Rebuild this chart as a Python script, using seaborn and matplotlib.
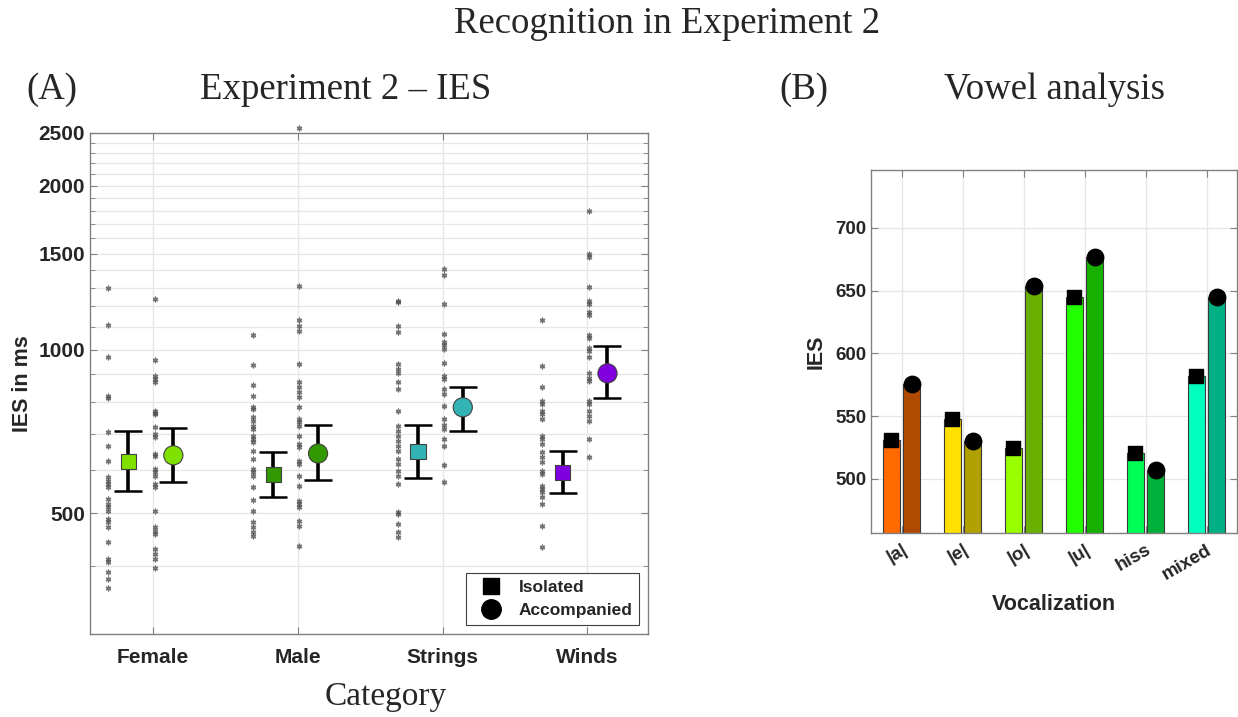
import numpy as np
import pandas as pd
import matplotlib
matplotlib.use("Agg")
import matplotlib.pyplot as plt
import seaborn as sns
from matplotlib.lines import Line2D
from matplotlib.ticker import FixedLocator, NullFormatter, FixedFormatter

sns.set_style("ticks")
plt.rcParams["font.family"] = ["Liberation Sans", "DejaVu Sans"]

# ---------------- data: panel A ----------------
categories = ["Female", "Male", "Strings", "Winds"]
conditions = ["Isolated", "Accompanied"]

female_iso = [1295, 1111, 967, 820, 813, 704, 664, 623, 583, 573, 566, 559, 531, 520,
              514, 505, 488, 482, 472, 443, 412, 407, 390, 379, 365]
female_acc = [1240, 955, 893, 881, 870, 770, 766, 760, 719, 699, 690, 642, 636, 603,
              595, 585, 565, 558, 505, 472, 464, 458, 430, 421, 412, 397]
male_iso = [1065, 935, 862, 820, 783, 776, 750, 738, 723, 713, 693, 684, 675, 650,
            628, 603, 595, 585, 558, 528, 505, 482, 472, 461, 454]
male_acc = [2553, 1310, 1135, 1106, 1083, 939, 870, 855, 834, 817, 783, 744, 735, 723,
            693, 669, 661, 623, 615, 585, 561, 526, 520, 514, 484, 474, 435]
strings_iso = [1230, 1225, 1106, 1075, 939, 919, 907, 870, 845, 770, 723, 707, 693,
               678, 664, 650, 628, 615, 597, 585, 565, 503, 498, 477, 461, 452]
strings_acc = [1408, 1373, 1214, 1070, 1034, 1021, 1004, 946, 893, 881, 845, 827,
               786, 744, 728, 713, 684, 664, 613, 570]
winds_iso = [1135, 931, 852, 803, 793, 770, 760, 744, 693, 684, 669, 647, 634, 620,
             597, 590, 561, 554, 547, 535, 520, 474, 433]
winds_acc = [1799, 1500, 1481, 1305, 1230, 1214, 1174, 1159, 1065, 1052, 1008, 992,
             967, 907, 888, 874, 803, 793, 770, 754, 738, 684, 634]

iso_mean = [623, 590, 650, 595]
iso_lo = [549, 535, 580, 545]
iso_hi = [707, 647, 726, 650]
acc_mean = [639, 644, 783, 904]
acc_lo = [570, 575, 707, 813]
acc_hi = [716, 726, 855, 1013]

cat_colors = ["#80E000", "#339900", "#33B3B3", "#8000E0"]

y_major = [500, 1000, 1500, 2000, 2500]

# ---------------- data: panel B ----------------
vocalizations = ["|a|", "|e|", "|o|", "|u|", "hiss", "mixed"]
vowel_iso = [531, 548, 525, 645, 521, 582]
vowel_acc = [576, 530, 654, 677, 507, 645]
vowel_iso_colors = ["#FF6A00", "#FFE000", "#99FF00", "#22FF00", "#00FF55", "#00FFBF"]
vowel_acc_colors = ["#B04A00", "#B0A000", "#6AB000", "#17B000", "#00B03A", "#00B085"]

# ---------------- figure ----------------
W, H = 1238, 717
fig = plt.figure(figsize=(W / 100, H / 100), dpi=100)
axA = fig.add_axes([90 / W, 1 - 634 / H, 558 / W, 501 / H])
axB = fig.add_axes([871 / W, 1 - 533 / H, 366 / W, 363 / H])

tick_color = "#262626"
spine_color = "#808080"
grid_color = "#e6e6e6"

# ---- Panel A ----
pt_groups = {
    ("Female", "Isolated"): female_iso, ("Female", "Accompanied"): female_acc,
    ("Male", "Isolated"): male_iso, ("Male", "Accompanied"): male_acc,
    ("Strings", "Isolated"): strings_iso, ("Strings", "Accompanied"): strings_acc,
    ("Winds", "Isolated"): winds_iso, ("Winds", "Accompanied"): winds_acc,
}
pt_offset = {"Isolated": -0.31, "Accompanied": 0.01}
mk_offset = {"Isolated": -0.17, "Accompanied": 0.14}

rows = []
for (cat, cond), vals in pt_groups.items():
    for v in vals:
        rows.append({"Category": cat, "Condition": cond, "IES": v,
                     "x": categories.index(cat) + pt_offset[cond]})
df_pts = pd.DataFrame(rows)

axA.set_yscale("log")
sns.scatterplot(data=df_pts, x="x", y="IES", ax=axA, marker=(6, 2, 0), s=11,
                color="#505050", edgecolor="#505050", linewidth=1.0, alpha=0.8,
                legend=False, zorder=3, clip_on=False)

idx = np.arange(len(categories))
x_iso = idx + mk_offset["Isolated"]
x_acc = idx + mk_offset["Accompanied"]
im, il, ih = map(np.array, (iso_mean, iso_lo, iso_hi))
am, al, ah = map(np.array, (acc_mean, acc_lo, acc_hi))
axA.errorbar(x_iso, im, yerr=[im - il, ih - im], fmt="none", ecolor="black",
             elinewidth=2.6, capsize=10, capthick=1.8, zorder=4)
axA.errorbar(x_acc, am, yerr=[am - al, ah - am], fmt="none", ecolor="black",
             elinewidth=2.6, capsize=10, capthick=1.8, zorder=4)

df_means = pd.DataFrame({
    "Category": categories * 2,
    "Condition": ["Isolated"] * 4 + ["Accompanied"] * 4,
    "x": np.concatenate([x_iso, x_acc]),
    "IES": iso_mean + acc_mean,
})
sns.scatterplot(data=df_means, x="x", y="IES", hue="Category", palette=cat_colors,
                style="Condition", markers={"Isolated": "s", "Accompanied": "o"},
                size="Condition", sizes={"Isolated": 120, "Accompanied": 190},
                edgecolor="#404040", linewidth=0.8, legend=False, ax=axA, zorder=5)

axA.set_xlim(-0.436, 3.42)
axA.set_ylim(300, 2500)
axA.yaxis.set_major_locator(FixedLocator(y_major))
axA.yaxis.set_major_formatter(FixedFormatter([str(v) for v in y_major]))
minor = [v for v in range(300, 2500, 100) if v not in y_major]
axA.yaxis.set_minor_locator(FixedLocator(minor))
axA.yaxis.set_minor_formatter(NullFormatter())
axA.set_xticks(idx)
axA.set_xticklabels(categories)
axA.grid(True, which="both", axis="y", color=grid_color, lw=0.9)
axA.grid(True, which="major", axis="x", color=grid_color, lw=0.9)
axA.set_axisbelow(True)
axA.set_xlabel("")
axA.set_ylabel("IES in ms", fontsize=15.5, fontweight="bold", color=tick_color,
               labelpad=4)

leg_handles = [
    Line2D([], [], marker="s", color="black", ls="none", markersize=11, label="Isolated"),
    Line2D([], [], marker="o", color="black", ls="none", markersize=14, label="Accompanied"),
]
leg = axA.legend(handles=leg_handles, loc="lower right", fancybox=False, framealpha=1,
                 edgecolor="#404040", prop={"weight": "bold", "size": 12.5},
                 borderaxespad=0.5, handletextpad=0.6, labelspacing=0.45,
                 borderpad=0.4, handlelength=2.0)
leg.get_frame().set_linewidth(0.8)

# ---- Panel B ----
df_b = pd.DataFrame({
    "Vocalization": vocalizations * 2,
    "Condition": ["Isolated"] * 6 + ["Accompanied"] * 6,
    "IES": vowel_iso + vowel_acc,
})
sns.barplot(data=df_b, x="Vocalization", y="IES", hue="Condition",
            hue_order=conditions, order=vocalizations, width=0.66, gap=0.16,
            errorbar=None, legend=False, ax=axB, edgecolor="#3a3a3a", linewidth=0.8,
            zorder=2)
bar_colors = []
for c_iso, c_acc in zip(vowel_iso_colors, vowel_acc_colors):
    bar_colors += [c_iso, c_acc]
for patch, col in zip(sorted(axB.patches, key=lambda p: p.get_x()), bar_colors):
    patch.set_facecolor(col)

vidx = np.arange(len(vocalizations))
axB.scatter(vidx - 0.165, vowel_iso, marker="s", s=100, color="black", zorder=4)
axB.scatter(vidx + 0.165, vowel_acc, marker="o", s=140, color="black", zorder=4)

axB.set_xlim(-0.5, 5.5)
axB.set_ylim(457, 746)
axB.set_yticks([500, 550, 600, 650, 700])
axB.grid(True, axis="both", color=grid_color, lw=0.9)
axB.set_axisbelow(True)
axB.set_ylabel("IES", fontsize=15.5, fontweight="bold", color=tick_color, labelpad=6)
axB.set_xlabel("Vocalization", fontsize=15.5, fontweight="bold", color=tick_color,
               labelpad=8)
axB.set_xticks(vidx)
axB.set_xticklabels(vocalizations, rotation=30, ha="right", rotation_mode="anchor")

# ---- common styling ----
for ax, lsize in ((axA, 15), (axB, 13.5)):
    for sp in ax.spines.values():
        sp.set_visible(True)
        sp.set_color(spine_color)
        sp.set_linewidth(1.0)
    ax.tick_params(which="both", direction="in", top=True, right=True,
                   colors=spine_color, labelcolor=tick_color, labelsize=lsize)
    ax.tick_params(which="major", length=5)
    ax.tick_params(which="minor", length=3.5)
    for lab in ax.get_xticklabels() + ax.get_yticklabels():
        lab.set_fontweight("bold")
axA.tick_params(axis="x", pad=10)
axB.tick_params(axis="x", pad=6)

# ---- titles ----
serif = ["Liberation Serif", "DejaVu Serif"]
tsize = 26.5
fig.text(667 / W, 1 - 24 / H, "Recognition in Experiment 2", family=serif,
         fontsize=tsize, ha="center", va="center")
fig.text(26 / W, 1 - 90 / H, "(A)", family=serif, fontsize=tsize, ha="left", va="center")
fig.text(346 / W, 1 - 90 / H, "Experiment 2 \u2013 IES", family=serif, fontsize=tsize,
         ha="center", va="center")
fig.text(779 / W, 1 - 90 / H, "(B)", family=serif, fontsize=tsize, ha="left", va="center")
fig.text(1054 / W, 1 - 90 / H, "Vowel analysis", family=serif, fontsize=tsize,
         ha="center", va="center")
fig.text(386 / W, 1 - 697 / H, "Category", family=serif, fontsize=24,
         ha="center", va="center")

fig.savefig("out.png", dpi=100, facecolor="white")
